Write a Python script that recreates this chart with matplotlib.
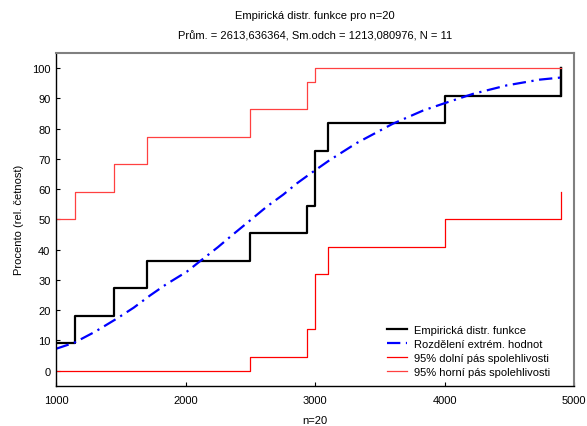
import matplotlib.pyplot as plt

plt.rcParams['font.family'] = ['Liberation Sans', 'DejaVu Sans']

# empirická distribuční funkce (schody), hodnoty v %
ecdf_x = [1000, 1150, 1450, 1700, 2500, 2940, 3000, 3100, 4000, 4900]
ecdf_y = [9.09, 18.18, 27.27, 36.36, 45.45, 54.55, 72.73, 81.82, 90.91, 100.0]

# pásy spolehlivosti 95 %
band_x = [1000, 1150, 1450, 1700, 2500, 2940, 3000, 3100, 4000, 4900]
lower_y = [0, 0, 0, 0, 4.55, 13.64, 31.82, 40.91, 50.0, 59.09]
upper_y = [50.0, 59.09, 68.18, 77.27, 86.36, 95.45, 100, 100, 100, 100]

# rozdělení extrémních hodnot (hladká křivka)
ev_x = [1000, 1140, 1300, 1470, 1600, 1725, 1850, 2010, 2125, 2250, 2355, 2500,
        2630, 2755, 2860, 2960, 3110, 3320, 3600, 3835, 4000, 4220, 4480, 4735, 4900]
ev_y = [7.2, 9.2, 12.8, 17.2, 20.8, 24.8, 28.5, 32.7, 36.6, 40.8, 44.6, 49.7,
        54.3, 58.2, 61.9, 65.0, 69.5, 75.2, 81.6, 86.0, 88.4, 91.5, 94.3, 96.2, 96.9]

fig = plt.figure(figsize=(5.87, 4.27), dpi=100)
ax = fig.add_axes([0.0954, 0.0944, 0.8826, 0.7791])

ax.step(ecdf_x, ecdf_y, where='post', color='black', lw=1.6,
        label='Empirická distr. funkce')
ax.plot([ecdf_x[-1], ecdf_x[-1]], [ecdf_y[-2], ecdf_y[-1]], color='black', lw=1.6)
ax.plot(ev_x, ev_y, color='#0000ff', lw=1.6, linestyle=(0, (6, 2.5, 1, 2.5)),
        label='Rozdělení extrém. hodnot')
ax.step(band_x, lower_y, where='post', color='#ff0000', lw=0.9,
        label='95% dolní pás spolehlivosti')
ax.step(band_x, upper_y, where='post', color='#ff4040', lw=0.9,
        label='95% horní pás spolehlivosti')

ax.set_xlim(1000, 5000)
ax.set_ylim(-5, 105)
ax.set_xticks([1000, 2000, 3000, 4000, 5000])
ax.set_yticks(range(0, 101, 10))
ax.tick_params(direction='in', length=3, labelsize=8, width=0.8)
ax.tick_params(axis='x', pad=7)
ax.tick_params(axis='y', pad=4)

for side in ['left', 'bottom']:
    ax.spines[side].set_color('black')
    ax.spines[side].set_linewidth(1.0)
for side in ['top', 'right']:
    ax.spines[side].set_color('#808080')
    ax.spines[side].set_linewidth(1.5)

ax.set_xlabel('n=20', fontsize=8, labelpad=7)
ax.set_ylabel('Procento (rel. četnost)', fontsize=8, labelpad=6)

fig.text(0.537, 0.962, 'Empirická distr. funkce pro n=20', ha='center', va='center', fontsize=8)
fig.text(0.537, 0.915, 'Prům. = 2613,636364, Sm.odch = 1213,080976, N = 11',
         ha='center', va='center', fontsize=8)

ax.legend(loc='lower right', frameon=False, fontsize=8, handlelength=1.8,
          handletextpad=0.6, labelspacing=0.35, borderaxespad=0.4,
          bbox_to_anchor=(0.97, 0.0))

fig.savefig('out.png', dpi=100)
